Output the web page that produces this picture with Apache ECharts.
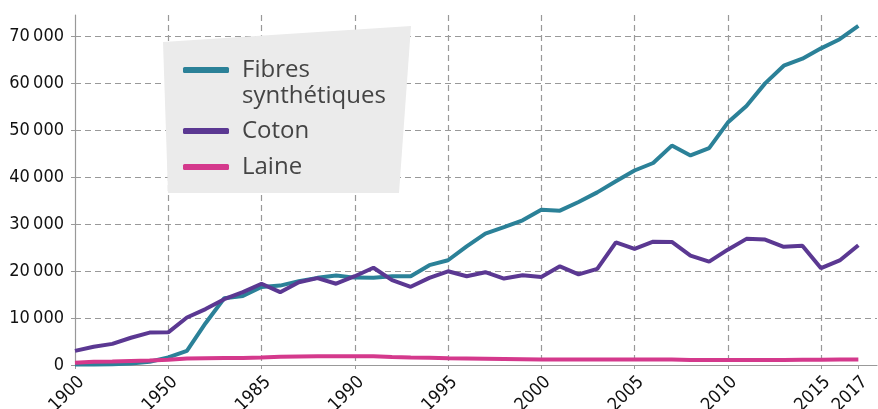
<!DOCTYPE html>
<html lang="fr">
<head>
<meta charset="UTF-8">
<title>Production mondiale de fibres</title>
<style>html,body{margin:0;padding:0;background:#fff;}</style>
</head>
<body>
<div id="main" style="width:878px;height:409px;"></div>
<script src="https://cdn.jsdelivr.net/npm/echarts@6/dist/echarts.min.js"></script>
<script>
const years = ['1900','1910','1920','1930','1940','1950','1960','1970','1975','1980',
  '1985','1986','1987','1988','1989','1990','1991','1992','1993','1994',
  '1995','1996','1997','1998','1999','2000','2001','2002','2003','2004',
  '2005','2006','2007','2008','2009','2010','2011','2012','2013','2014',
  '2015','2016','2017'];
const shownYears = ['1900','1950','1985','1990','1995','2000','2005','2010','2015','2017'];
const gridYears = ['1950','1985','1990','1995','2000','2005','2010','2015'];

const synthetiques = [100,100,150,300,700,1600,3000,8900,14200,14700,
  16600,16900,17850,18550,19050,18600,18550,18900,18900,21250,
  22300,25250,27950,29350,30800,33050,32850,34700,36750,39100,
  41400,43000,46700,44600,46150,51600,55150,59950,63700,65200,
  67400,69350,72200];
const coton = [3000,3900,4500,5800,6900,6950,10100,11900,14000,15500,
  17300,15500,17600,18500,17300,18900,20700,18050,16650,18550,
  19950,18900,19750,18400,19100,18750,21000,19300,20450,26100,
  24700,26250,26200,23300,22000,24550,26850,26700,25150,25400,
  20600,22250,25500];
const laine = [500,700,750,850,950,1100,1400,1450,1500,1500,
  1600,1750,1800,1850,1850,1850,1850,1700,1600,1550,
  1450,1400,1350,1300,1250,1150,1150,1150,1150,1150,
  1150,1150,1150,1050,1050,1050,1050,1050,1050,1100,
  1100,1150,1150];
const yTicks = [0,10000,20000,30000,40000,50000,60000,70000];

const chart = echarts.init(document.getElementById('main'));

const tickFont = 'DejaVu Sans Condensed';
const textFont = 'Open Sans';

function legendFor(name, top) {
  return {
    show: true,
    data: [name],
    left: 183,
    top: top,
    orient: 'vertical',
    padding: 0,
    z: 10,
    icon: 'roundRect',
    itemWidth: 46,
    itemHeight: 6,
    // the long name wraps; an empty first line keeps the icon on "Fibres"
    formatter: function (n) {
      return n === 'Fibres synthétiques' ? '\u00a0\nFibres\nsynthétiques' : n;
    },
    textStyle: {
      fontFamily: textFont,
      fontSize: 24,
      lineHeight: 26,
      color: '#444',
      padding: [0, 0, 0, 8]
    }
  };
}

const option = {
  animation: false,
  color: ['#2b8198', '#5b3892', '#d4398c'],
  grid: { left: 75, right: 1, top: 15, bottom: 44, containLabel: false, outerBoundsMode: 'none' },
  graphic: [{
    type: 'polygon',
    z: 3,
    shape: { points: [[163, 42], [411, 26], [399, 193], [168, 193]] },
    style: { fill: '#ebebeb' }
  }],
  legend: [
    legendFor('Fibres synthétiques', 31),
    legendFor('Coton', 118),
    legendFor('Laine', 154)
  ],
  xAxis: {
    type: 'category',
    data: years,
    boundaryGap: false,
    max: 43.35,
    axisLine: { lineStyle: { color: '#999', width: 1.2 } },
    axisTick: {
      show: true,
      length: 4,
      interval: function (i, v) { return shownYears.indexOf(v) >= 0; },
      lineStyle: { color: '#999' }
    },
    axisLabel: {
      interval: function (i, v) { return shownYears.indexOf(v) >= 0; },
      rotate: 45,
      verticalAlign: 'top',
      fontSize: 18,
      fontFamily: tickFont,
      color: '#111',
      margin: 8
    },
    splitLine: {
      show: true,
      interval: function (i, v) { return gridYears.indexOf(v) >= 0; },
      lineStyle: { color: '#999', type: [6, 4], width: 1.2 }
    }
  },
  yAxis: {
    type: 'value',
    min: 0,
    max: 74500,
    interval: 10000,
    axisLine: { show: true, lineStyle: { color: '#999', width: 1.2 } },
    axisTick: { show: true, length: 4, lineStyle: { color: '#999' } },
    axisLabel: {
      showMaxLabel: false,
      fontSize: 18,
      fontFamily: tickFont,
      color: '#111',
      margin: 11,
      formatter: function (v) {
        return yTicks.indexOf(v) >= 0 ? String(v).replace(/\B(?=(\d{3})+(?!\d))/g, '\u202f') : '';
      }
    },
    splitLine: {
      show: true,
      showMinLine: false,
      showMaxLine: false,
      lineStyle: { color: '#999', type: [6, 4], width: 1.2 }
    }
  },
  series: [
    { name: 'Fibres synthétiques', type: 'line', data: synthetiques, symbol: 'none', lineStyle: { width: 4 } },
    { name: 'Coton', type: 'line', data: coton, symbol: 'none', lineStyle: { width: 4 } },
    { name: 'Laine', type: 'line', data: laine, symbol: 'none', lineStyle: { width: 4 } }
  ]
};

chart.setOption(option);
</script>
</body>
</html>
